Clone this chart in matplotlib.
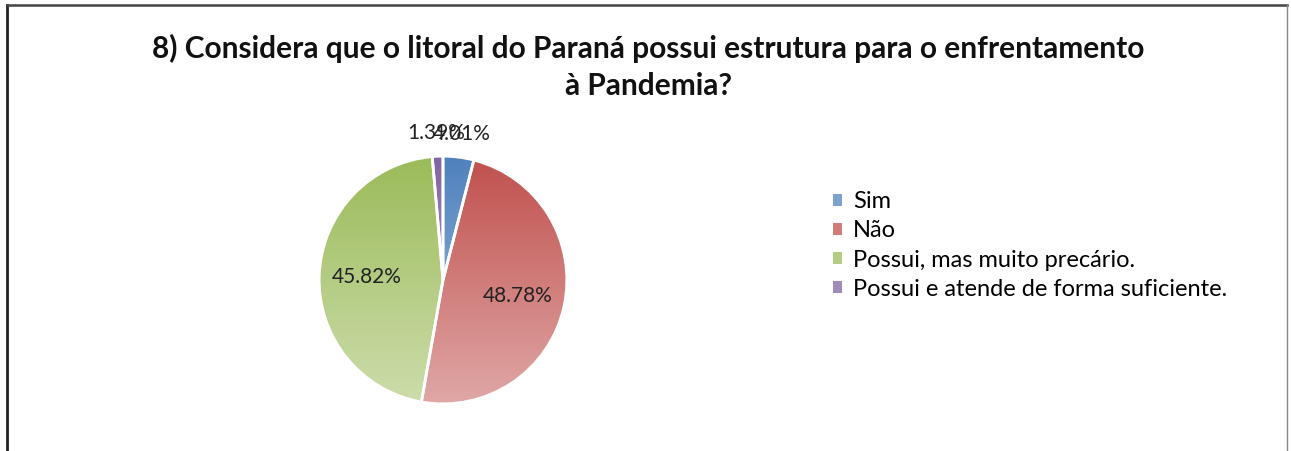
import numpy as np
import matplotlib
matplotlib.use('Agg')
import matplotlib.pyplot as plt
from matplotlib.colors import LinearSegmentedColormap, to_rgb
from matplotlib.patches import Patch
from matplotlib.lines import Line2D

plt.rcParams['font.family'] = ['Lato', 'DejaVu Sans']

# data
categorias = ['Sim', 'Não', 'Possui, mas muito precário.', 'Possui e atende de forma suficiente.']
percentuais = [4.01, 48.78, 45.82, 1.39]
cores = ['#4F81BD', '#C0504D', '#9BBB59', '#8064A2']
titulo = '8) Considera que o litoral do Paraná possui estrutura para o enfrentamento\nà Pandemia?'

fig = plt.figure(figsize=(12.91, 4.51), dpi=100)

# chart border (left/top/right, the bottom is cut off in the original)
fig.add_artist(Line2D([7/1291, 7/1291], [0, 1 - 5/451], color='#222222', lw=2, transform=fig.transFigure))
fig.add_artist(Line2D([7/1291, 1287/1291], [1 - 5/451, 1 - 5/451], color='#444444', lw=1.8, transform=fig.transFigure))
fig.add_artist(Line2D([1287/1291, 1287/1291], [0, 1 - 5/451], color='#888888', lw=1, transform=fig.transFigure))

fig.text(0.502, 1 - 67/451, titulo, ha='center', va='center', fontsize=21.5,
         fontweight='bold', linespacing=1.4, color='#111111')

ax = fig.add_axes([282/1291, (451 - 280 - 161)/451, 322/1291, 322/451])
wedges, _ = ax.pie(percentuais, colors=cores, startangle=90, counterclock=False,
                   wedgeprops=dict(edgecolor='white', linewidth=2))

# vertical gradient fill (darker at top, lighter at bottom) like Excel
yy = np.linspace(1, 0, 256).reshape(-1, 1)
for w, c in zip(wedges, cores):
    base = np.array(to_rgb(c))
    light = base + (1 - base) * 0.5
    cmap = LinearSegmentedColormap.from_list('g', [light, base])
    im = ax.imshow(yy, cmap=cmap, extent=[-1, 1, -1, 1], aspect='auto', zorder=1)
    im.set_clip_path(w)
    w.set_facecolor('none')
    w.set_zorder(2)

# percentage labels
for w, p in zip(wedges, percentuais):
    ang = np.deg2rad((w.theta1 + w.theta2) / 2)
    d = 0.62 if p > 10 else 1.19
    ax.text(d * np.cos(ang), d * np.sin(ang), f'{p:.2f}%', ha='center', va='center',
            fontsize=15, color='#222222', zorder=3)

ax.set_xlim(-1.3, 1.3)
ax.set_ylim(-1.3, 1.3)
ax.set_aspect('equal')
ax.axis('off')

handles = [Patch(facecolor=to_rgb(c) + (1 - np.array(to_rgb(c))) * 0.25, edgecolor='none') for c in cores]
fig.legend(handles, categorias, loc='upper left', bbox_to_anchor=(833/1291, 1 - 191/451),
           frameon=False, fontsize=17, handlelength=0.4, handleheight=0.4,
           handletextpad=0.45, labelspacing=0.35, borderaxespad=0, borderpad=0)

fig.savefig('out.png', dpi=100)
